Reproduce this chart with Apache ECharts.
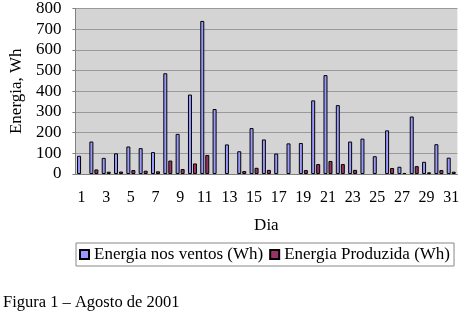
<!DOCTYPE html>
<html><head><meta charset="utf-8">
<script src="https://cdn.jsdelivr.net/npm/echarts@6/dist/echarts.min.js"></script>
<style>html,body{margin:0;padding:0;background:#fff}#c{width:462px;height:314px}</style>
</head><body><div id="c"></div>
<script>
var days = ['1','2','3','4','5','6','7','8','9','10','11','12','13','14','15','16','17','18','19','20','21','22','23','24','25','26','27','28','29','30','31'];
var ventos = [88,157,78,100,133,125,106,487,194,384,740,314,143,110,222,167,99,148,150,356,478,333,157,171,86,211,35,278,59,144,79];
var produzida = [0,22,11,12,19,16,13,65,24,51,92,0,0,14,30,20,0,0,19,48,63,48,20,0,0,29,5,38,8,19,11];
var yTicks = [0,100,200,300,400,500,600,700,800];
var FONT = '"Liberation Serif","Times New Roman",serif';
function hideZero(arr){return arr.map(function(v){return v===0?null:v;});}
var chart = echarts.init(document.getElementById('c'), null, {renderer:'canvas'});
chart.setOption({
  animation:false,
  textStyle:{fontFamily:FONT},
  grid:{left:65,right:2,top:5,bottom:140,show:true,backgroundColor:'#d4d4d4',borderWidth:0},
  legend:{left:76,top:243,padding:[3,4,3,3],itemWidth:9,itemHeight:9,itemGap:6,
    borderColor:'#888',borderWidth:1,
    textStyle:{fontFamily:FONT,fontSize:17,color:'#000'},
    data:[{name:'Energia nos ventos (Wh)',icon:'rect'},{name:'Energia Produzida (Wh)',icon:'rect'}]},
  graphic:[{type:'text',left:3,top:294,style:{text:'Figura 1 – Agosto de 2001',font:'16.5px '+FONT,fill:'#000'}}],
  xAxis:{type:'category',data:days,boundaryGap:true,
    name:'Dia',nameLocation:'middle',nameGap:43,nameTextStyle:{fontFamily:FONT,fontSize:17,color:'#000'},
    axisLine:{lineStyle:{color:'#808080'}},
    axisTick:{interval:0,length:5,lineStyle:{color:'#808080'}},
    axisLabel:{interval:1,margin:16,fontFamily:FONT,fontSize:16,color:'#000'}},
  yAxis:{type:'value',min:0,max:800,interval:100,
    name:'Energia, Wh',nameLocation:'middle',nameGap:48,nameRotate:90,nameTextStyle:{fontFamily:FONT,fontSize:17,color:'#000'},
    axisLine:{show:true,lineStyle:{color:'#808080'}},
    axisTick:{show:true,length:3,lineStyle:{color:'#808080'}},
    splitLine:{lineStyle:{color:'#999',width:1}},
    axisLabel:{margin:14,fontFamily:FONT,fontSize:17,color:'#000',
      formatter:function(v){return yTicks.indexOf(v)>=0?String(v):'';}}},
  series:[
    {name:'Energia nos ventos (Wh)',type:'bar',data:hideZero(ventos),barWidth:4,barGap:'25%',
     itemStyle:{color:'#9999ff',borderColor:'#000',borderWidth:1}},
    {name:'Energia Produzida (Wh)',type:'bar',data:hideZero(produzida),barWidth:4,
     itemStyle:{color:'#993366',borderColor:'#000',borderWidth:1}}
  ]
});
</script></body></html>
